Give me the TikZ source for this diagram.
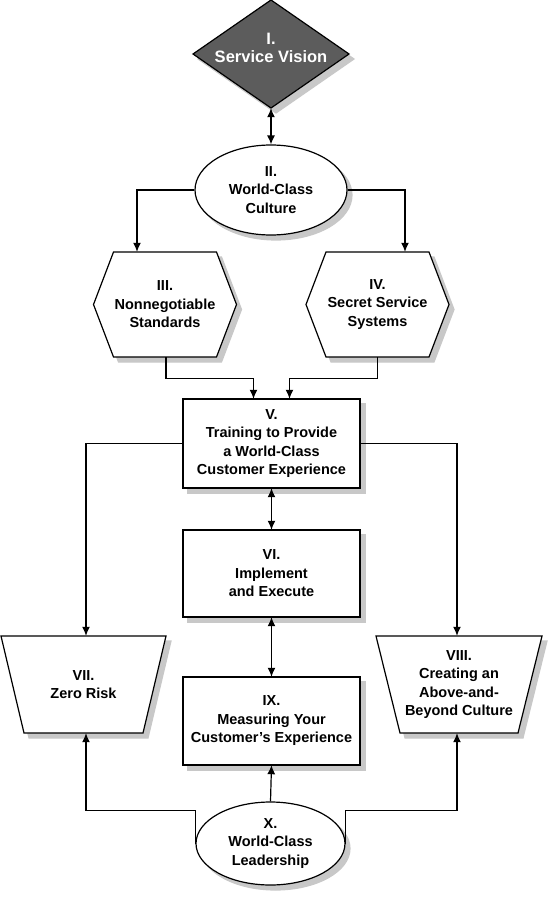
\documentclass[tikz,border=0pt]{standalone}
\usepackage{fontspec}
\setmainfont{Liberation Sans}
\usetikzlibrary{arrows.meta,shapes.geometric}
\definecolor{sgrey}{RGB}{200,200,200}
\definecolor{dgrey}{RGB}{92,92,92}
\begin{document}
\begin{tikzpicture}[x=1pt,y=-1pt,
  lbl/.style={align=center, inner sep=0pt, font=\fontsize{14.5}{18.5}\selectfont\bfseries},
  shp/.style={draw=black, line width=1.2pt, fill=white},
  shd/.style={fill=sgrey, draw=sgrey, line width=1.2pt},
  conn/.style={line width=1.2pt, -{Latex[length=9pt,width=8pt]}},
  conn2/.style={line width=1.2pt, {Latex[length=9pt,width=8pt]}-{Latex[length=9pt,width=8pt]}}]
\useasboundingbox (0,0) rectangle (549,899);

% shadows (drawn first, behind everything)
\path[shd] (276,5) -- (354,59) -- (276,113) -- (198,59) -- cycle;
\path[shd] (276,195) ellipse [x radius=76pt, y radius=45pt];
\path[shd] (98.5,309.5) -- (118.5,257) -- (221.5,257) -- (241.5,309.5) -- (221.5,362) -- (118.5,362) -- cycle;
\path[shd] (311,309.5) -- (331,257) -- (434,257) -- (454,309.5) -- (434,362) -- (331,362) -- cycle;
\path[shd] (188,404) -- (365,404) -- (365,493) -- (188,493) -- cycle;
\path[shd] (188,535) -- (365,535) -- (365,622) -- (188,622) -- cycle;
\path[shd] (188,682) -- (365,682) -- (365,770) -- (188,770) -- cycle;
\path[shd] (6,641) -- (171,641) -- (148,738) -- (29,738) -- cycle;
\path[shd] (381,641) -- (547,641) -- (523,738) -- (405,738) -- cycle;
\path[shd] (275.5,848.5) ellipse [x radius=74.5pt, y radius=41.5pt];

% outlines
\path[shp, fill=dgrey] (271,0) -- (349,54) -- (271,108) -- (193,54) -- cycle;
\path[shp] (93.5,304.5) -- (113.5,252) -- (216.5,252) -- (236.5,304.5) -- (216.5,357) -- (113.5,357) -- cycle;
\path[shp] (306,304.5) -- (326,252) -- (429,252) -- (449,304.5) -- (429,357) -- (326,357) -- cycle;
\path[shp] (183,399) -- (360,399) -- (360,488) -- (183,488) -- cycle;
\path[shp] (183,530) -- (360,530) -- (360,617) -- (183,617) -- cycle;
\path[shp] (183,677) -- (360,677) -- (360,765) -- (183,765) -- cycle;
\path[shp] (1,636) -- (166,636) -- (143,733) -- (24,733) -- cycle;
\path[shp] (376,636) -- (542,636) -- (518,733) -- (400,733) -- cycle;

% I. diamond text
\node[lbl, text=white, font=\fontsize{16.5}{18}\selectfont\bfseries,
  minimum width=156pt, minimum height=108pt] (I) at (271,48) {I.\\Service Vision};
% II. ellipse
\node[shp, lbl, ellipse, minimum width=152pt, minimum height=90pt] (II) at (271,190) {II.\\World-Class\\Culture};
% III, IV hexagons
\node[lbl, minimum width=143pt, minimum height=105pt] (III) at (165,304.5) {III.\\Nonnegotiable\\Standards};
\node[lbl, minimum width=143pt, minimum height=105pt] (IV) at (377.5,304.5) {IV.\\Secret Service\\Systems};
% V, VI, IX rectangles
\node[lbl, minimum width=177pt, minimum height=89pt] (V) at (271.5,443.5) {V.\\Training to Provide\\a World-Class\\Customer Experience};
\node[lbl, minimum width=177pt, minimum height=87pt] (VI) at (271.5,573.5) {VI.\\Implement\\and Execute};
\node[lbl, minimum width=177pt, minimum height=88pt] (IX) at (271.5,721) {IX.\\Measuring Your\\Customer's Experience};
% VII, VIII trapezia
\node[lbl, minimum width=165pt, minimum height=97pt] (VII) at (83.5,684.5) {VII.\\Zero Risk};
\node[lbl, minimum width=166pt, minimum height=97pt] (VIII) at (459,684.5) {VIII.\\Creating an\\Above-and-\\Beyond Culture};
% X. ellipse
\node[shp, lbl, ellipse, minimum width=149pt, minimum height=83pt] (X) at (270.5,843.5) {X.\\World-Class\\Leadership};

% connectors
\draw[conn2] ([yshift=-6pt]I.south) -- (II.north);
\draw[conn] (II.west) -| ([xshift=-28pt]III.north);
\draw[conn] (II.east) -| ([xshift=27.5pt]IV.north);
\draw[conn] ([xshift=1pt]III.south) -- ++(0,21) -| ([xshift=-18pt]V.north);
\draw[conn] (IV.south) -- ++(0,21) -| ([xshift=18pt]V.north);
\draw[conn] (V.west) -| ([xshift=2.5pt]VII.north);
\draw[conn] (V.east) -| ([xshift=-2pt]VIII.north);
\draw[conn2] (V.south) -- (VI.north);
\draw[conn2] (VI.south) -- (IX.north);
\draw[conn] (X.north) -- (IX.south);
\draw[conn] (X.west) -- ++(0,-33) -| ([xshift=2.5pt]VII.south);
\draw[conn] (X.east) -- ++(0,-33) -| ([xshift=-2pt]VIII.south);
\end{tikzpicture}
\end{document}
